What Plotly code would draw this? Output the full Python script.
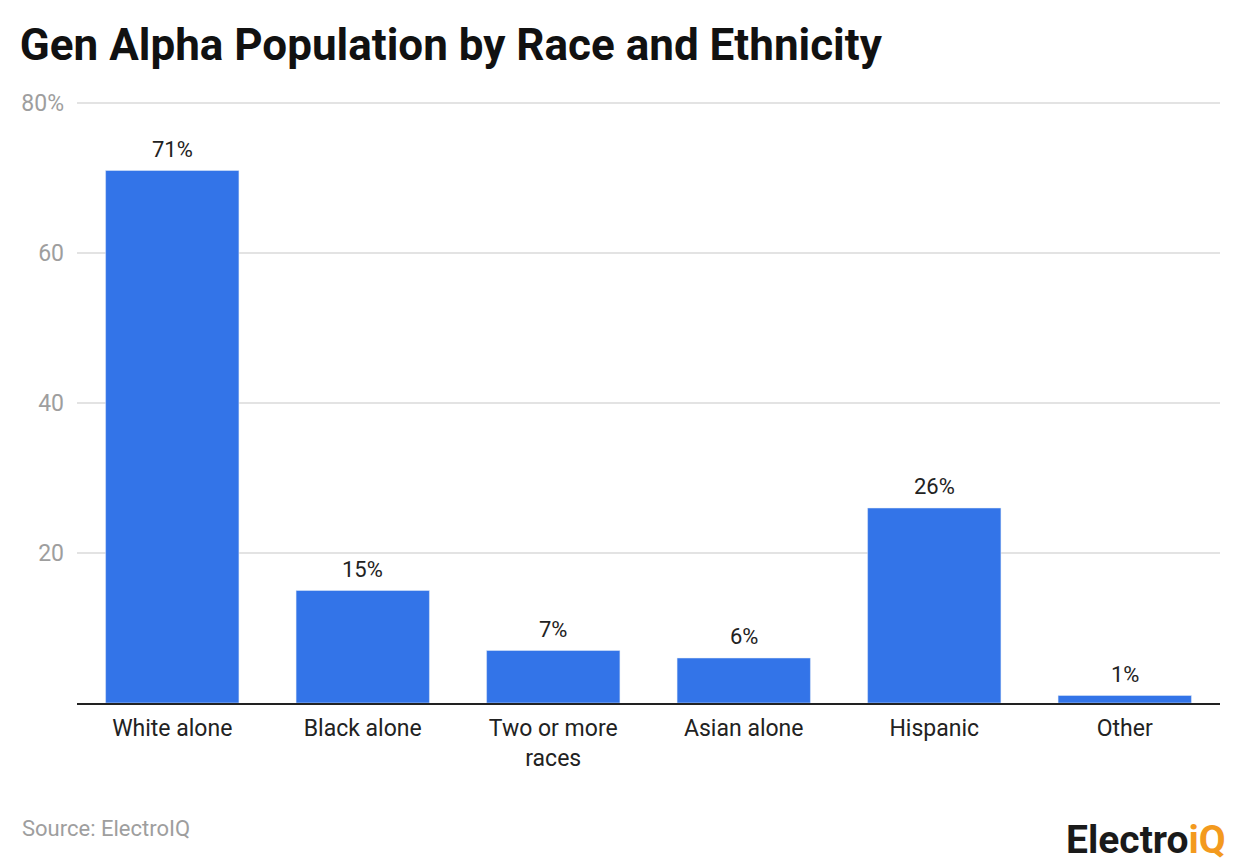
import plotly.graph_objects as go

categories = ["White alone", "Black alone", "Two or more<br>races", "Asian alone", "Hispanic", "Other"]
values = [71, 15, 7, 6, 26, 1]
labels = ["71%", "15%", "7%", "6%", "26%", "1%"]
tick_vals = [0, 20, 40, 60, 80]
tick_text = ["", "20", "40", "60", "80%"]

fig = go.Figure(go.Bar(
    x=categories, y=values,
    marker_color="#3374E8", width=0.7,
    cliponaxis=False,
))

for c, v, t in zip(categories, values, labels):
    fig.add_annotation(x=c, y=v, text=t, showarrow=False, yanchor="bottom",
                       yshift=7, font=dict(family="Roboto", size=22, color="#222222"))

fig.update_layout(
    width=1240, height=862,
    margin=dict(l=77, r=20, t=95, b=159),
    plot_bgcolor="white", paper_bgcolor="white",
    font=dict(family="Roboto"),
    showlegend=False,
    title=dict(text="<b>Gen Alpha Population by Race and Ethnicity</b>",
               x=0.016, xanchor="left", y=0.948, yanchor="middle",
               font=dict(family="Roboto", size=44, color="#111111")),
    xaxis=dict(showline=True, linecolor="#222222", linewidth=1.5,
               tickfont=dict(family="Roboto", size=23, color="#222222"),
               ticks="", ticklabelstandoff=4),
    yaxis=dict(range=[0, 81.067], tickvals=tick_vals, ticktext=tick_text,
               showgrid=True, gridcolor="#e3e3e3", gridwidth=1.5,
               zeroline=False, ticks="", ticklabelstandoff=12,
               tickfont=dict(family="Roboto", size=23, color="#9e9e9e")),
)
fig.add_annotation(text="Source: ElectroIQ", xref="paper", yref="paper",
                   x=-0.0499, y=-0.2056, xanchor="left", yanchor="middle",
                   showarrow=False, font=dict(family="Roboto", size=22, color="#9e9e9e"))
fig.add_annotation(text="<b><span style='color:#1a1a1a'>Electro</span><span style='color:#F39A1E'>iQ</span></b>",
                   xref="paper", yref="paper", x=1.007, y=-0.225, xanchor="right", yanchor="middle",
                   showarrow=False, font=dict(family="Roboto", size=39))

fig.write_html("out.html", config={"displayModeBar": False},
               post_script="document.body.style.margin='0';")
